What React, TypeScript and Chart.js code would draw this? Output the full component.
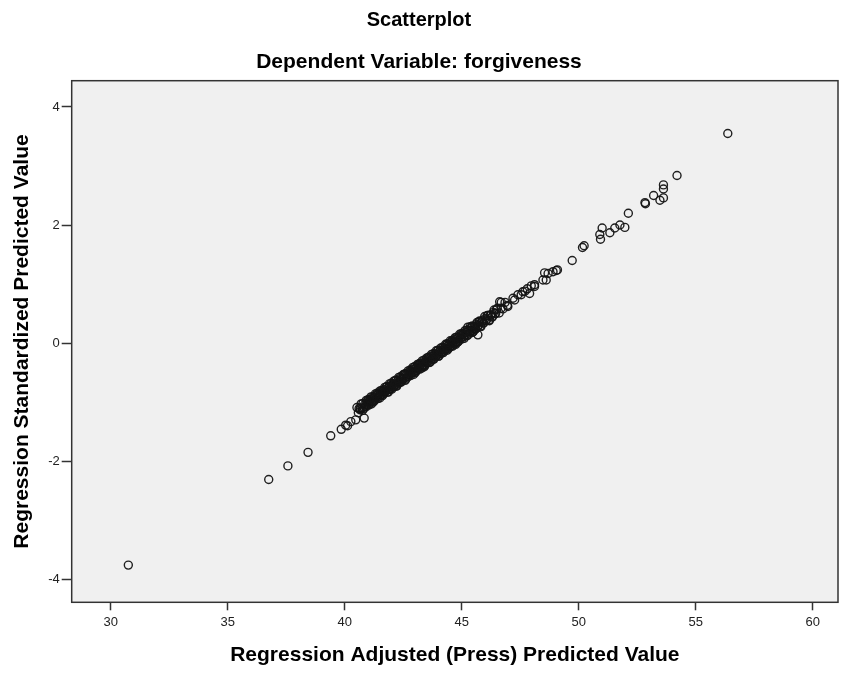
import React, { useEffect, useRef } from "react";
import { Chart, registerables } from "chart.js";

Chart.register(...registerables);

const titleText = "Scatterplot";
const subtitleText = "Dependent Variable: forgiveness";
const xAxisTitle = "Regression Adjusted (Press) Predicted Value";
const yAxisTitle = "Regression Standardized Predicted Value";

const xTicks = [30, 35, 40, 45, 50, 55, 60];
const yTicks = [-4, -2, 0, 2, 4];
const xRange = [28.33, 61.08];
const yRange = [-4.39, 4.445];

// Regression Adjusted (Press) Predicted Value
const adjPred = [
  30.75, 36.75, 37.57, 38.43, 39.4, 39.85, 40.04, 40.12, 40.26, 40.47, 40.66, 40.83, 40.76, 42.19, 43.4, 45.26, 45.69,
  40.52, 40.58, 40.61, 40.66, 40.7, 40.74, 40.78, 40.81, 40.85, 40.88, 40.92, 40.95, 40.99,
  41.02, 41.05, 41.08, 41.12, 41.15, 41.18, 41.21, 41.25, 41.28, 41.31, 41.35, 41.38, 41.41, 41.44, 41.48,
  41.51, 41.54, 41.58, 41.61, 41.64, 41.68, 41.71, 41.74, 41.78, 41.81, 41.84, 41.88, 41.91, 41.94, 41.98,
  42.01, 42.04, 42.08, 42.11, 42.14, 42.18, 42.21, 42.24, 42.28, 42.31, 42.34, 42.38, 42.41, 42.44, 42.48,
  42.51, 42.54, 42.58, 42.61, 42.64, 42.68, 42.71, 42.74, 42.78, 42.81, 42.84, 42.88, 42.91, 42.94, 42.98,
  43.01, 43.04, 43.08, 43.11, 43.14, 43.18, 43.21, 43.24, 43.28, 43.31, 43.34, 43.38, 43.41, 43.44, 43.48,
  43.51, 43.54, 43.58, 43.61, 43.64, 43.68, 43.71, 43.74, 43.78, 43.81, 43.84, 43.88, 43.91, 43.94, 43.98,
  44.01, 44.04, 44.08, 44.11, 44.14, 44.18, 44.21, 44.24, 44.28, 44.31, 44.34, 44.38, 44.41, 44.44, 44.48,
  44.51, 44.54, 44.58, 44.61, 44.64, 44.68, 44.71, 44.74, 44.78, 44.81, 44.84, 44.88, 44.91, 44.94, 44.98,
  45.01, 45.05, 45.09, 45.13, 45.17, 45.21, 45.25, 45.29, 45.33, 45.37, 45.41, 45.45, 45.5, 45.55, 45.6,
  45.65, 45.7, 45.75, 45.8, 45.86, 45.92, 45.98, 46.04, 46.1, 46.17, 46.24, 46.31, 46.38, 46.45, 46.52,
  46.6, 46.68, 46.76, 46.85, 46.95,
  40.9, 40.96, 41.02, 41.08, 41.14, 41.2, 41.26, 41.32, 41.38, 41.44, 41.5, 41.56, 41.62, 41.68, 41.74, 41.8,
  41.86, 41.92, 41.98, 42.04, 42.1, 42.16, 42.22, 42.28, 42.34, 42.4, 42.46, 42.52, 42.58, 42.64, 42.7, 42.76,
  42.82, 42.88, 42.94, 43.0, 43.06, 43.12, 43.18, 43.24, 43.3, 43.36, 43.42, 43.48, 43.54, 43.6, 43.66, 43.72,
  43.78, 43.84, 43.9, 43.96, 44.02, 44.08, 44.14, 44.2, 44.26, 44.32, 44.38, 44.44, 44.5, 44.56, 44.62, 44.68,
  44.74, 44.8, 44.86, 44.92, 44.98, 45.04, 45.1, 45.16, 45.22, 45.28, 45.34, 45.4, 45.46, 45.52, 45.58, 45.64,
  45.7, 45.76, 45.82, 45.88, 45.94, 46.0, 46.06, 46.12, 46.18, 46.24, 46.3, 46.36, 46.42, 46.48,
  46.62, 46.69, 46.97, 47.19, 47.26, 47.4, 47.54, 47.61, 47.7, 47.8, 47.9, 47.97, 48.11, 48.11, 48.47, 48.54,
  48.61, 48.69, 48.9, 49.04, 49.09, 49.72, 50.16, 50.23, 50.9, 50.93, 51.0, 51.33, 51.54, 51.76, 51.97, 52.12,
  52.83, 52.85, 53.2, 53.47, 53.62, 53.62, 53.62, 54.2, 56.37,
];

// Regression Standardized Predicted Value
const stdPred = [
  -3.76, -2.31, -2.08, -1.85, -1.57, -1.46, -1.39, -1.4, -1.33, -1.3, -1.1, -1.27, -1.14, -0.71, -0.4, 0.27, 0.14,
  -1.09, -1.18, -1.11, -1.13, -1.03, -1.1, -1.02, -1.11, -1.04, -1.07, -0.97, -1.04, -0.96,
  -1.05, -0.98, -1.02, -0.91, -0.99, -0.91, -1.0, -0.93, -0.96, -0.86, -0.93, -0.85, -0.94, -0.87, -0.9,
  -0.81, -0.88, -0.8, -0.89, -0.82, -0.85, -0.75, -0.82, -0.74, -0.83, -0.76, -0.79, -0.69, -0.77, -0.68,
  -0.78, -0.71, -0.74, -0.64, -0.71, -0.63, -0.72, -0.65, -0.68, -0.58, -0.65, -0.57, -0.66, -0.6, -0.62,
  -0.53, -0.6, -0.52, -0.61, -0.54, -0.57, -0.47, -0.54, -0.46, -0.55, -0.48, -0.51, -0.41, -0.49, -0.4,
  -0.5, -0.43, -0.46, -0.36, -0.43, -0.35, -0.44, -0.37, -0.4, -0.3, -0.37, -0.29, -0.38, -0.32, -0.34,
  -0.25, -0.32, -0.24, -0.33, -0.26, -0.29, -0.19, -0.26, -0.18, -0.27, -0.2, -0.23, -0.13, -0.21, -0.12,
  -0.22, -0.15, -0.18, -0.08, -0.15, -0.07, -0.16, -0.09, -0.12, -0.02, -0.09, -0.01, -0.1, -0.04, -0.06,
  0.04, -0.04, 0.04, -0.05, 0.02, -0.01, 0.09, 0.02, 0.1, 0.01, 0.08, 0.05, 0.15, 0.08, 0.16,
  0.07, 0.14, 0.11, 0.21, 0.14, 0.22, 0.13, 0.2, 0.17, 0.28, 0.21, 0.29, 0.2, 0.28, 0.25,
  0.35, 0.29, 0.37, 0.29, 0.36, 0.34, 0.45, 0.38, 0.47, 0.39, 0.47, 0.45, 0.56, 0.5, 0.59,
  0.51, 0.59, 0.58, 0.69, 0.64,
  -1.08, -0.99, -1.01, -0.95, -1.03, -0.93, -0.98, -0.89, -0.91, -0.85, -0.93, -0.83, -0.87, -0.79, -0.81, -0.74,
  -0.83, -0.73, -0.77, -0.69, -0.71, -0.64, -0.73, -0.63, -0.67, -0.59, -0.61, -0.54, -0.63, -0.53, -0.57, -0.49,
  -0.51, -0.44, -0.53, -0.43, -0.47, -0.38, -0.41, -0.34, -0.42, -0.33, -0.37, -0.28, -0.31, -0.24, -0.32, -0.23,
  -0.27, -0.18, -0.21, -0.14, -0.22, -0.13, -0.17, -0.08, -0.11, -0.04, -0.12, -0.03, -0.07, 0.02, 0.0, 0.06,
  -0.02, 0.08, 0.03, 0.12, 0.1, 0.16, 0.08, 0.18, 0.13, 0.22, 0.2, 0.26, 0.18, 0.28, 0.23, 0.32,
  0.3, 0.37, 0.28, 0.38, 0.34, 0.42, 0.4, 0.47, 0.38, 0.48, 0.44, 0.52, 0.5, 0.57,
  0.7, 0.69, 0.62, 0.76, 0.73, 0.82, 0.82, 0.87, 0.88, 0.92, 0.84, 0.97, 0.99, 0.96, 1.07, 1.19,
  1.07, 1.18, 1.21, 1.23, 1.24, 1.4, 1.62, 1.65, 1.84, 1.76, 1.95, 1.87, 1.95, 2.0, 1.96, 2.2,
  2.38, 2.36, 2.5, 2.42, 2.46, 2.61, 2.68, 2.84, 3.55,
];

const FONT = "'Liberation Sans', Arial, Helvetica, sans-serif";

const framePlugin = {
  id: "frame",
  beforeDatasetsDraw(chart: any) {
    const { ctx, chartArea } = chart;
    ctx.save();
    ctx.fillStyle = "#f0f0f0";
    ctx.fillRect(chartArea.left, chartArea.top, chartArea.right - chartArea.left, chartArea.bottom - chartArea.top);
    ctx.restore();
  },
  afterDraw(chart: any) {
    const { ctx, chartArea } = chart;
    ctx.save();
    ctx.strokeStyle = "#333333";
    ctx.lineWidth = 1.5;
    ctx.strokeRect(chartArea.left, chartArea.top, chartArea.right - chartArea.left, chartArea.bottom - chartArea.top);
    ctx.restore();
  },
};

export default function App() {
  const canvasRef = useRef<HTMLCanvasElement | null>(null);

  useEffect(() => {
    if (!canvasRef.current) return;
    const points = adjPred.map((x, i) => ({ x, y: stdPred[i] }));
    const chart = new Chart(canvasRef.current, {
      type: "scatter",
      data: {
        datasets: [
          {
            data: points,
            pointStyle: "circle",
            pointRadius: 4,
            pointBorderWidth: 1.4,
            pointBorderColor: "rgba(20,20,20,0.95)",
            pointBackgroundColor: "rgba(0,0,0,0)",
          },
        ],
      },
      plugins: [framePlugin],
      options: {
        responsive: false,
        animation: false,
        layout: { padding: { left: 0, right: 6, top: 0, bottom: 0 } },
        plugins: {
          legend: { display: false },
          tooltip: { enabled: false },
          title: {
            display: true,
            text: titleText,
            color: "#000",
            font: { family: FONT, size: 20, weight: "bold" },
            padding: { top: 8, bottom: 18 },
          },
          subtitle: {
            display: true,
            text: subtitleText,
            color: "#000",
            font: { family: FONT, size: 21, weight: "bold" },
            padding: { top: 0, bottom: 5.5 },
          },
        },
        scales: {
          x: {
            type: "linear",
            min: xRange[0],
            max: xRange[1],
            afterBuildTicks: (scale: any) => {
              scale.ticks = xTicks.map((v) => ({ value: v }));
            },
            afterFit: (scale: any) => {
              scale.height = 70.7;
            },
            grid: { display: true, drawOnChartArea: false, drawTicks: true, tickLength: 8, tickColor: "#333", tickWidth: 1.5 },
            border: { display: false },
            ticks: { color: "#222", font: { family: FONT, size: 13 }, padding: 4, maxRotation: 0 },
            title: {
              display: true,
              text: xAxisTitle,
              color: "#000",
              font: { family: FONT, size: 21, weight: "bold" },
              padding: { top: 0, bottom: 5 },
            },
          },
          y: {
            type: "linear",
            min: yRange[0],
            max: yRange[1],
            afterBuildTicks: (scale: any) => {
              scale.ticks = yTicks.map((v) => ({ value: v }));
            },
            afterFit: (scale: any) => {
              scale.width = 71.7;
            },
            grid: { display: true, drawOnChartArea: false, drawTicks: true, tickLength: 10, tickColor: "#333", tickWidth: 1.5 },
            border: { display: false },
            ticks: { color: "#222", font: { family: FONT, size: 13 }, padding: 2 },
            title: {
              display: true,
              text: yAxisTitle,
              color: "#000",
              font: { family: FONT, size: 21, weight: "bold" },
              padding: { top: 10, bottom: 0 },
            },
          },
        },
      },
    });
    return () => chart.destroy();
  }, []);

  return (
    <div style={{ position: "fixed", left: 0, top: 0, width: 844, height: 673, background: "#fff" }}>
      <canvas ref={canvasRef} width={844} height={673} style={{ width: 844, height: 673 }} />
    </div>
  );
}
